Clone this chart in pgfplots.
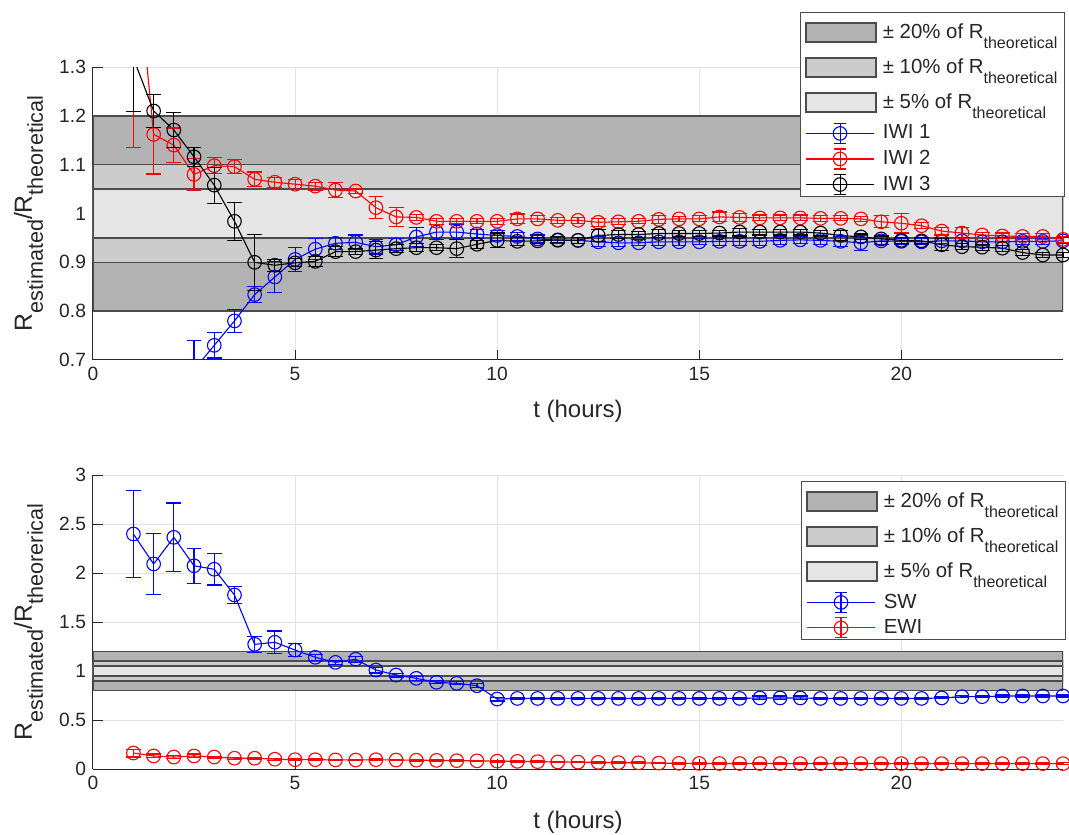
\documentclass[border=0pt]{standalone}
\usepackage{pgfplots}
\pgfplotsset{compat=1.18}
\usepackage{pgfplotstable}
\usepackage{fontspec}
\setmainfont{Liberation Sans}
\definecolor{bandA}{gray}{0.70}
\definecolor{bandB}{gray}{0.80}
\definecolor{bandC}{gray}{0.90}
\definecolor{axgray}{gray}{0.15}
\definecolor{edgegray}{gray}{0.30}
\newcommand{\lsub}[1]{\raisebox{-5pt}{\fontsize{8}{8}\selectfont #1}}
\newcommand{\ysub}[1]{\raisebox{-5.5pt}{\fontsize{10.8}{11}\selectfont #1}}
\newcommand{\bandtext}[1]{±~#1\% of R\lsub{theoretical}}

% error bar mark: vertical bar from \elo to \ehi (pt, relative to the point), caps of half-width \capl / \caph
\pgfdeclareplotmark{ebar}{%
  \pgfpathmoveto{\pgfpoint{0pt}{\elo}}%
  \pgfpathlineto{\pgfpoint{0pt}{\ehi}}%
  \pgfpathmoveto{\pgfpoint{-\capl}{\elo}}%
  \pgfpathlineto{\pgfpoint{\capl}{\elo}}%
  \pgfpathmoveto{\pgfpoint{-\caph}{\ehi}}%
  \pgfpathlineto{\pgfpoint{\caph}{\ehi}}%
  \pgfusepathqstroke}

\pgfplotstableread[row sep=\\]{
x y e\\
2.5 0.68 0.06\\ 3 0.730 0.026\\ 3.5 0.780 0.024\\ 4 0.834 0.016\\ 4.5 0.870 0.031\\
5 0.906 0.025\\ 5.5 0.927 0.022\\ 6 0.939 0.012\\ 6.5 0.941 0.015\\ 7 0.932 0.015\\
7.5 0.936 0.012\\ 8 0.952 0.02\\ 8.5 0.962 0.015\\ 9 0.962 0.015\\ 9.5 0.958 0.01\\
10 0.955 0.01\\ 10.5 0.953 0.008\\ 11 0.948 0.008\\ 11.5 0.945 0.006\\ 12 0.945 0.006\\
12.5 0.942 0.01\\ 13 0.940 0.008\\ 13.5 0.940 0.006\\ 14 0.942 0.008\\ 14.5 0.942 0.008\\
15 0.942 0.006\\ 15.5 0.943 0.008\\ 16 0.943 0.008\\ 16.5 0.943 0.008\\ 17 0.945 0.008\\
17.5 0.946 0.008\\ 18 0.945 0.008\\ 18.5 0.943 0.01\\ 19 0.940 0.015\\ 19.5 0.944 0.008\\
20 0.943 0.006\\ 20.5 0.942 0.006\\ 21 0.944 0.006\\ 21.5 0.944 0.006\\ 22 0.942 0.008\\
22.5 0.942 0.008\\ 23 0.943 0.006\\ 23.5 0.943 0.006\\ 24 0.944 0.006\\
}\iwione

\pgfplotstableread[row sep=\\]{
x y e\\
1 1.59 0.455\\ 1.5 1.162 0.081\\ 2 1.140 0.035\\ 2.5 1.080 0.032\\ 3 1.098 0.017\\
3.5 1.096 0.015\\ 4 1.070 0.015\\ 4.5 1.064 0.01\\ 5 1.060 0.01\\ 5.5 1.056 0.008\\
6 1.048 0.015\\ 6.5 1.046 0.005\\ 7 1.012 0.022\\ 7.5 0.993 0.02\\ 8 0.992 0.006\\
8.5 0.984 0.006\\ 9 0.984 0.005\\ 9.5 0.984 0.005\\ 10 0.984 0.006\\ 10.5 0.989 0.01\\
11 0.989 0.006\\ 11.5 0.986 0.006\\ 12 0.986 0.006\\ 12.5 0.982 0.008\\ 13 0.983 0.006\\
13.5 0.984 0.005\\ 14 0.988 0.008\\ 14.5 0.989 0.005\\ 15 0.989 0.006\\ 15.5 0.993 0.01\\
16 0.992 0.008\\ 16.5 0.991 0.006\\ 17 0.991 0.006\\ 17.5 0.991 0.006\\ 18 0.990 0.006\\
18.5 0.990 0.005\\ 19 0.989 0.005\\ 19.5 0.983 0.012\\ 20 0.980 0.02\\ 20.5 0.975 0.006\\
21 0.964 0.008\\ 21.5 0.960 0.012\\ 22 0.956 0.006\\ 22.5 0.954 0.006\\ 23 0.953 0.006\\
23.5 0.953 0.006\\ 24 0.947 0.006\\
}\iwitwo

\pgfplotstableread[row sep=\\]{
x y e\\
1 1.318 0.11\\ 1.5 1.210 0.034\\ 2 1.171 0.035\\ 2.5 1.116 0.02\\ 3 1.058 0.037\\
3.5 0.984 0.039\\ 4 0.900 0.057\\ 4.5 0.894 0.012\\ 5 0.899 0.008\\ 5.5 0.902 0.01\\
6 0.922 0.01\\ 6.5 0.922 0.006\\ 7 0.925 0.018\\ 7.5 0.928 0.008\\ 8 0.930 0.008\\
8.5 0.930 0.006\\ 9 0.928 0.018\\ 9.5 0.937 0.008\\ 10 0.945 0.015\\ 10.5 0.943 0.008\\
11 0.944 0.006\\ 11.5 0.946 0.006\\ 12 0.945 0.006\\ 12.5 0.955 0.012\\ 13 0.957 0.008\\
13.5 0.957 0.006\\ 14 0.959 0.008\\ 14.5 0.959 0.006\\ 15 0.959 0.006\\ 15.5 0.960 0.006\\
16 0.962 0.008\\ 16.5 0.962 0.006\\ 17 0.962 0.006\\ 17.5 0.962 0.006\\ 18 0.960 0.006\\
18.5 0.955 0.01\\ 19 0.952 0.006\\ 19.5 0.948 0.006\\ 20 0.945 0.006\\ 20.5 0.944 0.006\\
21 0.936 0.012\\ 21.5 0.932 0.006\\ 22 0.931 0.006\\ 22.5 0.929 0.006\\ 23 0.920 0.006\\
23.5 0.915 0.006\\ 24 0.915 0.006\\
}\iwithree

\pgfplotstableread[row sep=\\]{
x y e\\
1 2.398 0.44\\ 1.5 2.092 0.31\\ 2 2.364 0.35\\ 2.5 2.074 0.18\\ 3 2.038 0.16\\
3.5 1.776 0.09\\ 4 1.272 0.08\\ 4.5 1.293 0.115\\ 5 1.214 0.065\\ 5.5 1.14 0.03\\
6 1.088 0.02\\ 6.5 1.12 0.03\\ 7 1.01 0.03\\ 7.5 0.959 0.02\\ 8 0.925 0.02\\
8.5 0.885 0.015\\ 9 0.874 0.015\\ 9.5 0.85 0.02\\ 10 0.714 0.02\\ 10.5 0.72 0.01\\
11 0.72 0.01\\ 11.5 0.72 0.01\\ 12 0.72 0.01\\ 12.5 0.72 0.01\\ 13 0.72 0.01\\
13.5 0.72 0.01\\ 14 0.72 0.01\\ 14.5 0.72 0.01\\ 15 0.72 0.01\\ 15.5 0.72 0.01\\
16 0.72 0.01\\ 16.5 0.725 0.02\\ 17 0.725 0.02\\ 17.5 0.725 0.02\\ 18 0.72 0.01\\
18.5 0.72 0.01\\ 19 0.72 0.01\\ 19.5 0.72 0.01\\ 20 0.72 0.01\\ 20.5 0.72 0.01\\
21 0.725 0.01\\ 21.5 0.738 0.01\\ 22 0.738 0.01\\ 22.5 0.745 0.01\\ 23 0.745 0.01\\
23.5 0.745 0.01\\ 24 0.745 0.01\\
}\sw

\pgfplotstableread[row sep=\\]{
x y e\\
1 0.163 0.04\\ 1.5 0.133 0.02\\ 2 0.122 0.015\\ 2.5 0.133 0.02\\ 3 0.122 0.01\\
3.5 0.11 0.01\\ 4 0.11 0.01\\ 4.5 0.10 0.01\\ 5 0.095 0.01\\ 5.5 0.095 0.008\\
6 0.093 0.008\\ 6.5 0.092 0.008\\ 7 0.095 0.008\\ 7.5 0.092 0.008\\ 8 0.09 0.008\\
8.5 0.088 0.008\\ 9 0.085 0.008\\ 9.5 0.083 0.008\\ 10 0.08 0.008\\ 10.5 0.078 0.008\\
11 0.075 0.008\\ 11.5 0.072 0.008\\ 12 0.07 0.008\\ 12.5 0.068 0.008\\ 13 0.065 0.008\\
13.5 0.063 0.008\\ 14 0.06 0.008\\ 14.5 0.058 0.008\\ 15 0.057 0.008\\ 15.5 0.056 0.008\\
16 0.056 0.008\\ 16.5 0.056 0.008\\ 17 0.056 0.008\\ 17.5 0.055 0.008\\ 18 0.055 0.008\\
18.5 0.055 0.008\\ 19 0.055 0.008\\ 19.5 0.055 0.008\\ 20 0.055 0.008\\ 20.5 0.055 0.008\\
21 0.055 0.008\\ 21.5 0.055 0.008\\ 22 0.055 0.008\\ 22.5 0.055 0.008\\ 23 0.055 0.008\\
23.5 0.055 0.008\\ 24 0.055 0.008\\
}\ewi

\pgfplotsset{
  myaxis/.style={
    scale only axis, width=485pt,
    xmin=0, xmax=24, xtick={0,5,10,15,20},
    axis x line*=bottom, axis y line*=left,
    axis line style={axgray, line width=0.5pt},
    tick align=inside, major tick length=5pt,
    tick style={axgray, line width=0.5pt},
    grid=major, major grid style={gray!22, line width=0.5pt},
    ticklabel style={font=\fontsize{9.6}{11}\selectfont, text=axgray},
    /pgf/number format/assume math mode=true,
    ylabel style={font=\fontsize{12.4}{14}\selectfont, text=axgray},
    xlabel style={font=\fontsize{12}{14}\selectfont, text=axgray},
    legend cell align=left,
    legend style={draw=edgegray, fill=white, line width=0.5pt,
      font=\fontsize{10.2}{11}\selectfont, inner xsep=2.5pt, inner ysep=0.5pt,
      row sep=0pt,
      nodes={inner xsep=1pt, inner ysep=0pt, text=black!85},
      /tikz/every odd column/.append style={column sep=2pt}},
  },
  band/.style={fill=#1, draw=edgegray, line width=0.8pt,
    area legend,
    legend image code/.code={
      \path[draw=none, fill=none] (0pt,-8pt) rectangle (35pt,9.5pt);
      \draw[fill=#1, draw=edgegray, line width=0.8pt] (0pt,-4.8pt) rectangle (35pt,4.8pt);}},
  series/.style={color=#1, line width=0.55pt, mark=o, mark size=3.4pt,
    mark options={solid, line width=0.55pt},
    legend image code/.code={
      \path[draw=none, fill=none] (0pt,-4.5pt) rectangle (34pt,7.5pt);
      \draw[draw=#1, line width=0.55pt] (0pt,0pt) -- (34pt,0pt);
      \draw[draw=#1, line width=0.55pt] (17pt,-5pt) -- (17pt,5pt) (14pt,-5pt) -- (20pt,-5pt) (14pt,5pt) -- (20pt,5pt);
      \draw[draw=#1, line width=0.55pt] (17pt,0pt) circle (3.4pt);}},
  % error bars for the top axis (y range 0.7..1.3, 244.1667 pt per unit);
  % the mark sits at the value kept inside the axis and its bar is cut at the axis edges
  ebarsT/.style={#1, only marks, mark=ebar, forget plot,
    mark options={solid, line width=0.55pt, draw=#1},
    visualization depends on={(max(\thisrow{y}-\thisrow{e},0.7)-max(min(\thisrow{y},1.299),0.701))*244.1667 \as \elo},
    visualization depends on={(min(\thisrow{y}+\thisrow{e},1.3)-max(min(\thisrow{y},1.299),0.701))*244.1667 \as \ehi},
    visualization depends on={(\thisrow{y}-\thisrow{e}>0.6999)*3.7 \as \capl},
    visualization depends on={(\thisrow{y}+\thisrow{e}<1.3001)*3.7 \as \caph}},
  % error bars for the bottom axis (y range 0..3, 49 pt per unit)
  ebarsB/.style={#1, only marks, mark=ebar, forget plot,
    mark options={solid, line width=0.55pt, draw=#1},
    visualization depends on={-\thisrow{e}*49 \as \elo},
    visualization depends on={\thisrow{e}*49 \as \ehi},
    visualization depends on={3.7 \as \capl},
    visualization depends on={3.7 \as \caph}},
}

\begin{document}
\begin{tikzpicture}
\useasboundingbox (-46.5pt,-237pt) rectangle (488pt,180pt);
\begin{axis}[myaxis, at={(0pt,0pt)}, anchor=south west,
  height=146.5pt, ymin=0.7, ymax=1.3, ytick={0.7,0.8,...,1.3},
  xlabel={t (hours)},
  xlabel style={at={(axis description cs:0.5,-0.174)}, anchor=center},
  ylabel={R\ysub{estimated}/R\ysub{theoretical}},
  ylabel style={at={(axis description cs:-0.0666,0.5)}, anchor=center},
  legend style={at={(1.002,1.188)}, anchor=north east},
]
\addplot[band=bandA] coordinates {(0,0.8) (24,0.8) (24,1.2) (0,1.2) (0,0.8)};
\addlegendentry{\bandtext{20}}
\addplot[band=bandB] coordinates {(0,0.9) (24,0.9) (24,1.1) (0,1.1) (0,0.9)};
\addlegendentry{\bandtext{10}}
\addplot[band=bandC] coordinates {(0,0.95) (24,0.95) (24,1.05) (0,1.05) (0,0.95)};
\addlegendentry{\bandtext{5}}
\addplot[ebarsT=blue] table[x=x, y expr={max(min(\thisrow{y},1.299),0.701)}] {\iwione};
\addplot[series=blue] table[x=x, y=y] {\iwione};
\addlegendentry{IWI 1}
\addplot[ebarsT=red] table[x=x, y expr={max(min(\thisrow{y},1.299),0.701)}] {\iwitwo};
\addplot[series=red] table[x=x, y=y] {\iwitwo};
\addlegendentry{IWI 2}
\addplot[ebarsT=black] table[x=x, y expr={max(min(\thisrow{y},1.299),0.701)}] {\iwithree};
\addplot[series=black] table[x=x, y=y] {\iwithree};
\addlegendentry{IWI 3}
\end{axis}

\begin{axis}[myaxis, at={(0pt,-204.5pt)}, anchor=south west,
  height=147pt, ymin=0, ymax=3, ytick={0,0.5,...,3},
  xlabel={t (hours)},
  xlabel style={at={(axis description cs:0.5,-0.180)}, anchor=center},
  ylabel={R\ysub{estimated}/R\ysub{theorerical}},
  ylabel style={at={(axis description cs:-0.0666,0.5)}, anchor=center},
  legend style={at={(1.003,0.98)}, anchor=north east},
]
\addplot[band=bandA] coordinates {(0,0.8) (24,0.8) (24,1.2) (0,1.2) (0,0.8)};
\addlegendentry{\bandtext{20}}
\addplot[band=bandB] coordinates {(0,0.9) (24,0.9) (24,1.1) (0,1.1) (0,0.9)};
\addlegendentry{\bandtext{10}}
\addplot[band=bandC] coordinates {(0,0.95) (24,0.95) (24,1.05) (0,1.05) (0,0.95)};
\addlegendentry{\bandtext{5}}
\addplot[ebarsB=blue] table[x=x, y=y] {\sw};
\addplot[series=blue] table[x=x, y=y] {\sw};
\addlegendentry{SW}
\addplot[ebarsB=red] table[x=x, y=y] {\ewi};
\addplot[series=red] table[x=x, y=y] {\ewi};
\addlegendentry{EWI}
\end{axis}
\end{tikzpicture}
\end{document}
